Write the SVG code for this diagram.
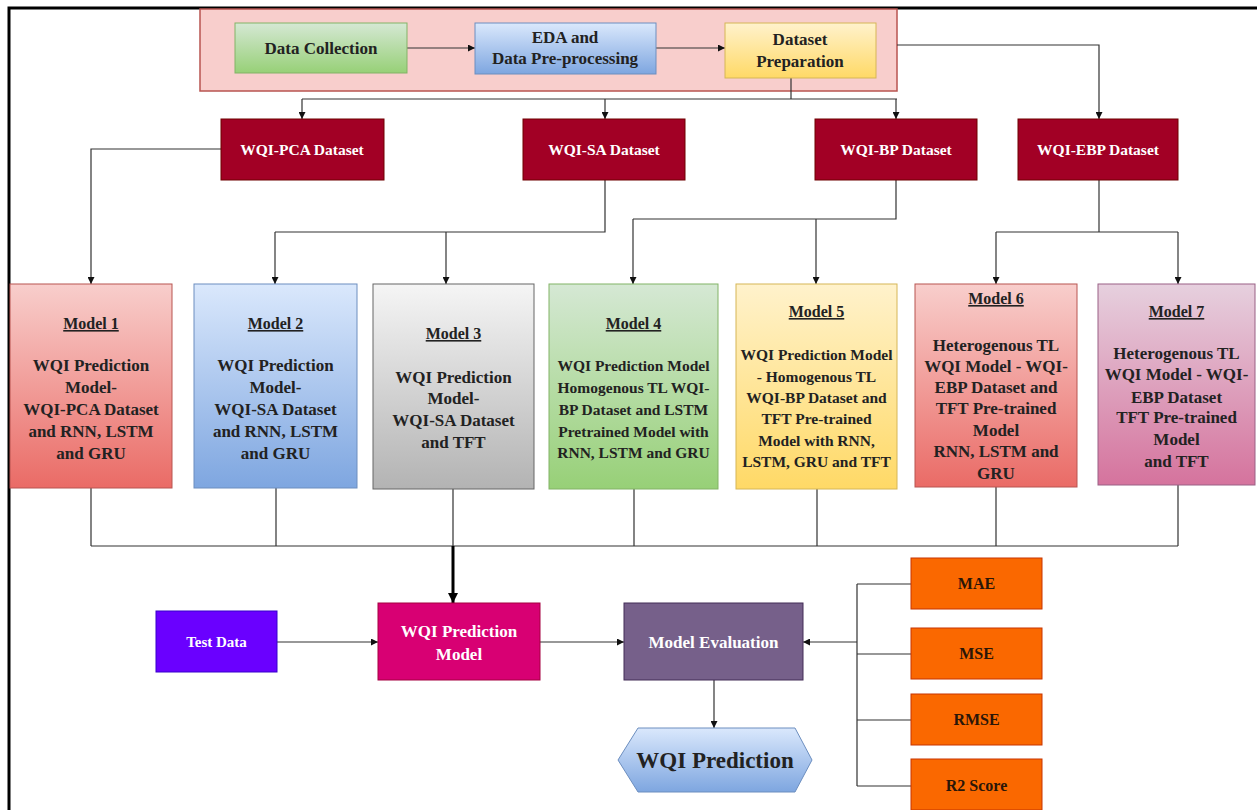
<svg xmlns="http://www.w3.org/2000/svg" width="1257" height="810" viewBox="0 0 1257 810">
<style>
  text { font-family: "Liberation Serif", "Times New Roman", serif; font-weight: bold; text-anchor: middle; }
  .dk { fill: #222; }
  .wt { fill: #fff; }
  .mt { font-size: 16px; text-decoration: underline; fill: #222; }
  .mb { font-size: 17px; fill: #222; }
  .ms { font-size: 15.5px; fill: #222; }
  .ds { fill: #a20025; stroke: #6f0000; stroke-width: 1; }
  .dst { font-size: 15.5px; fill: #fff; }
  .met { fill: #fa6800; stroke: #c73500; stroke-width: 1; }
  .mett { font-size: 16px; fill: #2a1608; }
  .ln { fill: none; stroke: #333; stroke-width: 1.2; }
  .ar { fill: none; stroke: #333; stroke-width: 1.2; marker-end: url(#ah); }
</style>
<defs>
  <marker id="ah" viewBox="0 0 10 10" refX="10" refY="5" markerWidth="7" markerHeight="7" markerUnits="userSpaceOnUse" orient="auto">
    <path d="M0,0 L10,5 L0,10 z" fill="#111"/>
  </marker>
  <marker id="ahb" viewBox="0 0 10 10" refX="10" refY="5" markerWidth="10" markerHeight="10" markerUnits="userSpaceOnUse" orient="auto">
    <path d="M0,0 L10,5 L0,10 z" fill="#000"/>
  </marker>
  <linearGradient id="gRed" x1="0" y1="0" x2="0" y2="1"><stop offset="0" stop-color="#f8cecc"/><stop offset="1" stop-color="#ea6b66"/></linearGradient>
  <linearGradient id="gBlue" x1="0" y1="0" x2="0" y2="1"><stop offset="0" stop-color="#dae8fc"/><stop offset="1" stop-color="#7ea6e0"/></linearGradient>
  <linearGradient id="gGrey" x1="0" y1="0" x2="0" y2="1"><stop offset="0" stop-color="#f5f5f5"/><stop offset="1" stop-color="#b3b3b3"/></linearGradient>
  <linearGradient id="gGreen" x1="0" y1="0" x2="0" y2="1"><stop offset="0" stop-color="#d5e8d4"/><stop offset="1" stop-color="#97d077"/></linearGradient>
  <linearGradient id="gYellow" x1="0" y1="0" x2="0" y2="1"><stop offset="0" stop-color="#fff2cc"/><stop offset="1" stop-color="#ffd966"/></linearGradient>
  <linearGradient id="gPurple" x1="0" y1="0" x2="0" y2="1"><stop offset="0" stop-color="#e6d0de"/><stop offset="1" stop-color="#d5739d"/></linearGradient>
</defs>
<rect x="0" y="0" width="1257" height="810" fill="#fff"/>
<path d="M9,810 V8 H1257" fill="none" stroke="#000" stroke-width="3"/>

<g id="pipeline">
  <rect x="200" y="9" width="697" height="82" fill="#f8cecc" stroke="#b85450" stroke-width="1.5"/>
</g>

<g id="connectors">
  <path class="ar" d="M407,48 H475"/>
  <path class="ar" d="M656,48 H725"/>
  <path class="ln" d="M791,78 V99"/>
  <path class="ln" d="M302,99 H897"/>
  <path class="ar" d="M302,99 V119"/>
  <path class="ar" d="M605,99 V119"/>
  <path class="ar" d="M896,99 V119"/>
  <path class="ar" d="M897,45 H1099 V119"/>
  <path class="ar" d="M221,149 H91 V284"/>
  <path class="ln" d="M605,180 V232 H275"/>
  <path class="ar" d="M275,232 V284"/>
  <path class="ar" d="M446,232 V284"/>
  <path class="ln" d="M896,180 V219 H633"/>
  <path class="ar" d="M633,219 V284"/>
  <path class="ar" d="M816,219 V284"/>
  <path class="ln" d="M1099,180 V232"/>
  <path class="ln" d="M996,232 H1178"/>
  <path class="ar" d="M996,232 V284"/>
  <path class="ar" d="M1178,232 V284"/>
  <path class="ln" d="M91,488 V546 M276,488 V546 M453,489 V546 M634,489 V546 M817,489 V546 M996,487 V546 M1178,485 V546 M91,546 H1178"/>
  <path d="M453,546 V603" fill="none" stroke="#000" stroke-width="3" marker-end="url(#ahb)"/>
  <path class="ar" d="M277,642 H378"/>
  <path class="ar" d="M540,642 H624"/>
  <path class="ar" d="M714,680 V728"/>
  <path class="ln" d="M857,584 V786 M857,584 H911 M857,654 H911 M857,720 H911 M857,786 H911"/>
  <path class="ar" d="M857,642 H803"/>
</g>

<g id="data-collection">
  <rect x="235" y="23" width="172" height="50" fill="url(#gGreen)" stroke="#82b366"/>
  <text x="321" y="54" font-size="17" class="dk">Data Collection</text>
</g>
<g id="eda">
  <rect x="475" y="23" width="181" height="51" fill="url(#gBlue)" stroke="#6c8ebf"/>
  <text x="565" y="43" font-size="17" class="dk">EDA and</text>
  <text x="565" y="64" font-size="17" class="dk">Data Pre-processing</text>
</g>
<g id="dataset-prep">
  <rect x="725" y="23" width="151" height="55" fill="url(#gYellow)" stroke="#d6b656"/>
  <text x="800" y="45" font-size="17" class="dk">Dataset</text>
  <text x="800" y="67" font-size="17" class="dk">Preparation</text>
</g>

<g id="wqi-pca"><rect class="ds" x="221" y="119" width="163" height="61"/><text class="dst" x="302" y="155">WQI-PCA Dataset</text></g>
<g id="wqi-sa"><rect class="ds" x="523" y="119" width="162" height="61"/><text class="dst" x="604" y="155">WQI-SA Dataset</text></g>
<g id="wqi-bp"><rect class="ds" x="815" y="119" width="162" height="61"/><text class="dst" x="896" y="155">WQI-BP Dataset</text></g>
<g id="wqi-ebp"><rect class="ds" x="1018" y="119" width="160" height="61"/><text class="dst" x="1098" y="155">WQI-EBP Dataset</text></g>

<g id="model1">
  <rect x="10" y="284" width="162" height="204" fill="url(#gRed)" stroke="#b85450"/>
  <text class="mt" x="91" y="329">Model 1</text>
  <text class="mb" x="91" y="371">WQI Prediction</text>
  <text class="mb" x="91" y="393">Model-</text>
  <text class="mb" x="91" y="415">WQI-PCA Dataset</text>
  <text class="mb" x="91" y="437">and RNN, LSTM</text>
  <text class="mb" x="91" y="459">and GRU</text>
</g>
<g id="model2">
  <rect x="194" y="284" width="163" height="204" fill="url(#gBlue)" stroke="#6c8ebf"/>
  <text class="mt" x="275.5" y="329">Model 2</text>
  <text class="mb" x="275.5" y="371">WQI Prediction</text>
  <text class="mb" x="275.5" y="393">Model-</text>
  <text class="mb" x="275.5" y="415">WQI-SA Dataset</text>
  <text class="mb" x="275.5" y="437">and RNN, LSTM</text>
  <text class="mb" x="275.5" y="459">and GRU</text>
</g>
<g id="model3">
  <rect x="373" y="284" width="161" height="205" fill="url(#gGrey)" stroke="#666"/>
  <text class="mt" x="453.5" y="339">Model 3</text>
  <text class="mb" x="453.5" y="383">WQI Prediction</text>
  <text class="mb" x="453.5" y="404">Model-</text>
  <text class="mb" x="453.5" y="426">WQI-SA Dataset</text>
  <text class="mb" x="453.5" y="448">and TFT</text>
</g>
<g id="model4">
  <rect x="549" y="284" width="169" height="205" fill="url(#gGreen)" stroke="#82b366"/>
  <text class="mt" x="633.5" y="329">Model 4</text>
  <text class="ms" x="633.5" y="371">WQI Prediction Model</text>
  <text class="ms" x="633.5" y="393">Homogenous TL WQI-</text>
  <text class="ms" x="633.5" y="415">BP Dataset and LSTM</text>
  <text class="ms" x="633.5" y="437">Pretrained Model with</text>
  <text class="ms" x="633.5" y="458">RNN, LSTM and GRU</text>
</g>
<g id="model5">
  <rect x="736" y="284" width="161" height="205" fill="url(#gYellow)" stroke="#d6b656"/>
  <text class="mt" x="816.5" y="317">Model 5</text>
  <text class="ms" x="816.5" y="360">WQI Prediction Model</text>
  <text class="ms" x="816.5" y="382">- Homogenous TL</text>
  <text class="ms" x="816.5" y="403">WQI-BP Dataset and</text>
  <text class="ms" x="816.5" y="424">TFT Pre-trained</text>
  <text class="ms" x="816.5" y="446">Model with RNN,</text>
  <text class="ms" x="816.5" y="467">LSTM, GRU and TFT</text>
</g>
<g id="model6">
  <rect x="915" y="284" width="162" height="203" fill="url(#gRed)" stroke="#b85450"/>
  <text class="mt" x="996" y="304">Model 6</text>
  <text class="mb" x="996" y="351">Heterogenous TL</text>
  <text class="mb" x="996" y="372">WQI Model - WQI-</text>
  <text class="mb" x="996" y="393">EBP Dataset and</text>
  <text class="mb" x="996" y="414">TFT Pre-trained</text>
  <text class="mb" x="996" y="436">Model</text>
  <text class="mb" x="996" y="457">RNN, LSTM and</text>
  <text class="mb" x="996" y="479">GRU</text>
</g>
<g id="model7">
  <rect x="1098" y="284" width="157" height="201" fill="url(#gPurple)" stroke="#996185"/>
  <text class="mt" x="1176.5" y="317">Model 7</text>
  <text class="mb" x="1176.5" y="359">Heterogenous TL</text>
  <text class="mb" x="1176.5" y="380">WQI Model - WQI-</text>
  <text class="mb" x="1176.5" y="403">EBP Dataset</text>
  <text class="mb" x="1176.5" y="423">TFT Pre-trained</text>
  <text class="mb" x="1176.5" y="445">Model</text>
  <text class="mb" x="1176.5" y="467">and TFT</text>
</g>

<g id="test-data">
  <rect x="156" y="611" width="121" height="61" fill="#6a00ff" stroke="#3700cc"/>
  <text class="wt" x="216.5" y="647" font-size="15">Test Data</text>
</g>
<g id="wqi-pred-model">
  <rect x="378" y="603" width="162" height="77" fill="#d80073" stroke="#a50040"/>
  <text class="wt" x="459" y="637" font-size="17">WQI Prediction</text>
  <text class="wt" x="459" y="660" font-size="17">Model</text>
</g>
<g id="model-eval">
  <rect x="624" y="603" width="179" height="77" fill="#76608a" stroke="#432d57"/>
  <text class="wt" x="713.5" y="648" font-size="17">Model Evaluation</text>
</g>
<g id="wqi-prediction">
  <polygon points="618,760 638,728 795,728 812,760 795,792 638,792" fill="url(#gBlue)" stroke="#6c8ebf"/>
  <text class="dk" x="715" y="768" font-size="23">WQI Prediction</text>
</g>
<g id="mae"><rect class="met" x="911" y="558" width="131" height="51"/><text class="mett" x="976.5" y="589">MAE</text></g>
<g id="mse"><rect class="met" x="911" y="628" width="131" height="51"/><text class="mett" x="976.5" y="659">MSE</text></g>
<g id="rmse"><rect class="met" x="911" y="694" width="131" height="51"/><text class="mett" x="976.5" y="725">RMSE</text></g>
<g id="r2"><rect class="met" x="911" y="759" width="131" height="51"/><text class="mett" x="976.5" y="791">R2 Score</text></g>
</svg>
